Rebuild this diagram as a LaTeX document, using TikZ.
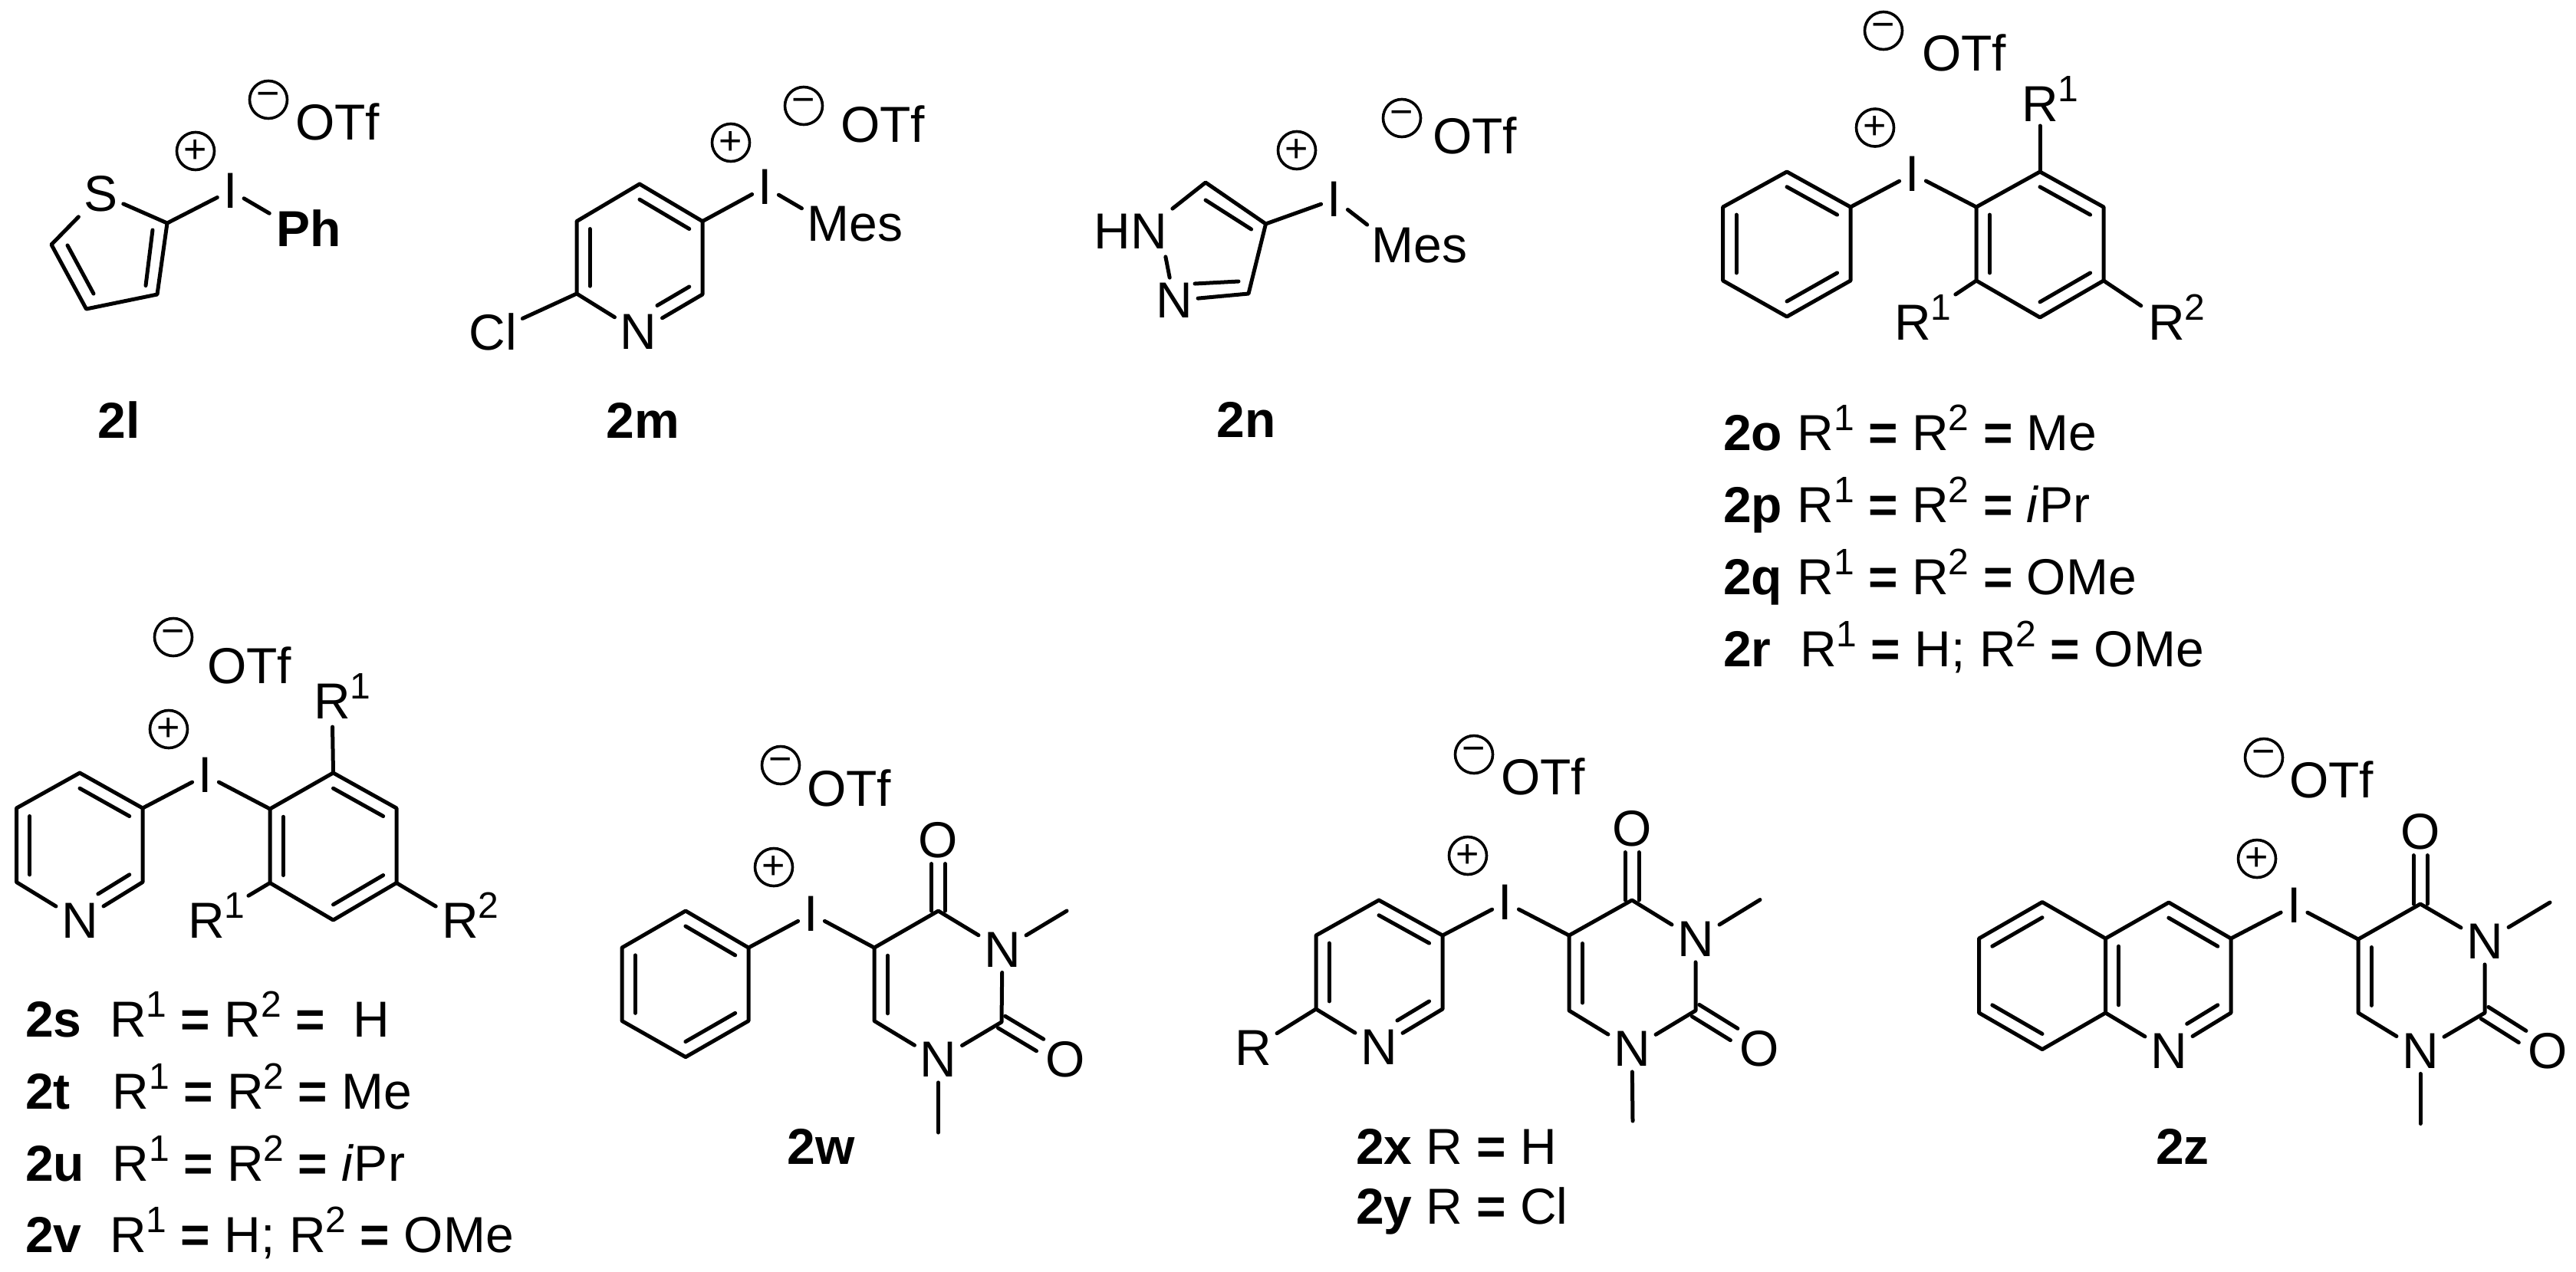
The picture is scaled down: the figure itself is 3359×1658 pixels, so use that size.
\documentclass[tikz,border=0pt]{standalone}
\usepackage{fontspec}
\setmainfont{Liberation Sans}
\usetikzlibrary{calc}
\newcommand\labfont{\fontsize{66}{70}\selectfont}
\newcommand\su[1]{\raisebox{26pt}{\fontsize{48}{48}\selectfont #1}}
\newcommand\Rn[1]{R\rlap{\smash{\su{#1}}}}
\newcommand\eqq{{\bfseries =}}
\newcommand\cc[3]{\coordinate (#1) at (#2,#3);}
\newcommand\bd[1]{\draw[bond] #1;}
\newcommand\inn[4][0pt]{\draw[bond,shorten >=#1] ($(#2)!.21!(#4)$) -- ($(#3)!.21!(#4)$);}
\newcommand\ats[3]{\draw[bond,shorten >=#3] (#1) -- (#2.center);}
\newcommand\dco[2]{\draw[bond] ($(#1)!9pt!90:(#2)$) -- ($(#2)!9pt!-90:(#1)$); \draw[bond] ($(#1)!9pt!-90:(#2)$) -- ($(#2)!9pt!90:(#1)$);}
\newcommand\tl[6]{\node[txt] (#1a) at (#2,#4) {\bfseries #5}; \node[txt] (#1b) at (#3,#4) {#6};}
\tikzset{
  bond/.style={line width=5pt,line cap=round,line join=round,black},
  atom/.style={inner sep=7pt,font=\labfont},
  iatom/.style={inner xsep=8pt,inner ysep=4pt,font=\labfont},
  lab/.style={inner sep=0pt,font=\labfont},
  blab/.style={inner sep=0pt,font=\labfont\bfseries},
  txt/.style={inner sep=0pt,anchor=base west,font=\labfont},
  chg/.style={circle,draw=black,line width=3.6pt,minimum size=49pt,inner sep=0pt,font=\fontsize{52}{52}\selectfont},
}
\begin{document}
\begin{tikzpicture}[x=1pt,y=-1pt]
\path[fill=white,use as bounding box] (0,0) rectangle (3359,1658);

% ---------- 2l
\cc{lC2}{218}{291}\cc{lC3}{205}{384}\cc{lC4}{112.5}{403}\cc{lC5}{67}{319}
\cc{lI2a}{199}{300}\cc{lI2b}{190}{372.5}\cc{lI4a}{122}{383}\cc{lI4b}{88}{320}
\node[atom] (lS) at (131.6,253) {S};
\node[iatom] (lI) at (300.7,248.6) {I};
\node[blab] (lPh) at (403,297.5) {Ph};
\node[chg] (lp) at (255,197) {+};
\node[chg] (lm) at (350,130) {−};
\node[lab] (lO) at (440,159) {OTf};
\node[blab] (l2) at (155,548) {2l};
\bd{(lS) -- (lC2) -- (lC3) -- (lC4) -- (lC5) -- (lS)}
\bd{(lI2a) -- (lI2b)}\bd{(lI4a) -- (lI4b)}
\bd{(lC2) -- (lI)}
\draw[bond,shorten >=38pt] (lI) -- ($(lPh.center)+(-19,0)$);

% ---------- 2m
\cc{mT}{834}{240}\cc{mRT}{916}{288.6}\cc{mRB}{916}{384}\cc{mLB}{752}{383}\cc{mLT}{752}{288.6}\cc{mc}{834}{336}
\node[atom] (mN) at (832.5,433) {N};
\node[atom] (mCl) at (643,433) {Cl};
\node[iatom] (mI) at (998,244) {I};
\node[lab] (mMes) at (1115,292) {Mes};
\node[chg] (mp) at (953,186) {+};
\node[chg] (mm) at (1048,138) {−};
\node[lab] (mO) at (1151,162) {OTf};
\node[blab] (m2) at (838,548) {2m};
\bd{(mT) -- (mRT) -- (mRB) -- (mN) -- (mLB) -- (mLT) -- (mT)}
\inn{mT}{mRT}{mc}\inn{mLB}{mLT}{mc}\inn[28pt]{mRB}{mN}{mc}
\bd{(mLB) -- (mCl)}\bd{(mRT) -- (mI)}
\draw[bond,shorten >=40pt] (mI) -- ($(mMes.center)+(-35,0)$);

% ---------- 2n
\cc{nC3}{1628}{383}\cc{nC4}{1650.5}{292}\cc{nC5}{1572}{238}
\cc{nI3a}{1558}{370}\cc{nI3b}{1615}{367}\cc{nI5a}{1572}{261}\cc{nI5b}{1631.6}{299}
\node[atom] (nHN) at (1474,302) {HN};
\node[atom] (nN) at (1531,392) {N};
\node[iatom] (nI) at (1740,260) {I};
\node[lab] (nMes) at (1851,320) {Mes};
\node[chg] (np) at (1691,196) {+};
\node[chg] (nm) at (1828,154) {−};
\node[lab] (nO) at (1923,177) {OTf};
\node[blab] (n2) at (1625,547) {2n};
\bd{(nHN.north east) -- (nC5) -- (nC4) -- (nC3) -- (nN)}
\bd{($(nHN.south east)+(-9,3)$) -- (nN)}
\bd{(nI3a) -- (nI3b)}\bd{(nI5a) -- (nI5b)}
\bd{(nC4) -- (nI)}
\draw[bond,shorten >=44pt] (nI) -- ($(nMes.center)+(-33.5,0)$);

% ---------- 2o-r
\cc{oA1}{2330}{224}\cc{oA2}{2413}{270}\cc{oA3}{2413}{366}\cc{oA4}{2330}{413}\cc{oA5}{2246.6}{366}\cc{oA6}{2246.6}{270}\cc{oAc}{2330}{318}
\cc{oB1}{2577}{270}\cc{oB2}{2660}{224}\cc{oB3}{2743}{270}\cc{oB4}{2743}{366}\cc{oB5}{2660}{414}\cc{oB6}{2577}{366}\cc{oBc}{2660}{318}
\node[iatom] (oI) at (2494,227) {I};
\node[lab] (oR1) at (2660,136) {\Rn{1}};
\node[lab] (oR2) at (2494,421) {\Rn{1}};
\node[lab] (oR3) at (2825,421) {\Rn{2}};
\node[chg] (op) at (2445,166.5) {+};
\node[chg] (om) at (2456,40) {−};
\node[lab] (oO) at (2561,69) {OTf};
\draw[bond] (oA1) -- (oA2) -- (oA3) -- (oA4) -- (oA5) -- (oA6) -- cycle;
\inn{oA1}{oA2}{oAc}\inn{oA3}{oA4}{oAc}\inn{oA5}{oA6}{oAc}
\draw[bond] (oB1) -- (oB2) -- (oB3) -- (oB4) -- (oB5) -- (oB6) -- cycle;
\inn{oB2}{oB3}{oBc}\inn{oB4}{oB5}{oBc}\inn{oB6}{oB1}{oBc}
\bd{(oA2) -- (oI)}\bd{(oI) -- (oB1)}
\ats{oB2}{oR1}{28pt}\ats{oB6}{oR2}{67pt}\ats{oB4}{oR3}{40pt}
\tl{to}{2247}{2343.5}{587.7}{2o}{R\su{1} \eqq{} R\su{2} \eqq{} Me}
\tl{tp}{2247}{2343.5}{681.7}{2p}{R\su{1} \eqq{} R\su{2} \eqq{} \textit{i}Pr}
\tl{tq}{2247}{2343.5}{775.7}{2q}{R\su{1} \eqq{} R\su{2} \eqq{} OMe}
\tl{tr}{2247}{2347}{869}{2r}{R\su{1} \eqq{} H; R\su{2} \eqq{} OMe}

% ---------- 2s-v
\cc{sA1}{104}{1008}\cc{sA2}{186}{1054}\cc{sA3}{186}{1150.5}\cc{sA5}{21.5}{1150.5}\cc{sA6}{21.5}{1054}\cc{sAc}{104}{1104}
\cc{sB1}{352}{1055}\cc{sB2}{434.5}{1008}\cc{sB3}{517}{1054}\cc{sB4}{517}{1151.5}\cc{sB5}{434.5}{1200}\cc{sB6}{352}{1151.5}\cc{sBc}{434.5}{1104}
\node[atom] (sN) at (104,1201) {N};
\node[iatom] (sI) at (268,1011) {I};
\node[lab] (sR1) at (433,915) {\Rn{1}};
\node[lab] (sR2) at (269,1201) {\Rn{1}};
\node[lab] (sR3) at (600,1201) {\Rn{2}};
\node[chg] (sp) at (220,951) {+};
\node[chg] (sm) at (226,831) {−};
\node[lab] (sO) at (325,868) {OTf};
\bd{(sA1) -- (sA2) -- (sA3) -- (sN) -- (sA5) -- (sA6) -- (sA1)}
\inn{sA1}{sA2}{sAc}\inn{sA5}{sA6}{sAc}\inn[28pt]{sA3}{sN}{sAc}
\draw[bond] (sB1) -- (sB2) -- (sB3) -- (sB4) -- (sB5) -- (sB6) -- cycle;
\inn{sB2}{sB3}{sBc}\inn{sB4}{sB5}{sBc}\inn{sB6}{sB1}{sBc}
\bd{(sA2) -- (sI)}\bd{(sI) -- (sB1)}
\ats{sB2}{sR1}{33pt}\ats{sB6}{sR2}{64pt}\ats{sB4}{sR3}{37pt}
\tl{ts}{33}{143}{1352.3}{2s}{R\su{1} \eqq{} R\su{2} \eqq{} \hspace{18pt}H}
\tl{tt}{33}{146.5}{1446.7}{2t}{R\su{1} \eqq{} R\su{2} \eqq{} Me}
\tl{tu}{33}{146.5}{1540}{2u}{R\su{1} \eqq{} R\su{2} \eqq{} \textit{i}Pr}
\tl{tv}{33}{143}{1633.3}{2v}{R\su{1} \eqq{} H; R\su{2} \eqq{} OMe}

% ---------- 2w
\cc{wA1}{894}{1188}\cc{wA2}{976}{1236}\cc{wA3}{976}{1331.5}\cc{wA4}{894}{1378.6}\cc{wA5}{811}{1331.5}\cc{wA6}{811}{1236}\cc{wAc}{893.5}{1283}
\cc{wC5}{1140}{1236}\cc{wC4}{1223.5}{1188}\cc{wC2}{1306}{1333}\cc{wC6}{1140}{1331.5}\cc{wUc}{1223}{1285}
\cc{wMe3}{1391}{1188}\cc{wMe1}{1223.5}{1477}
\node[atom] (wN3) at (1307,1238.5) {N};
\node[atom] (wN1) at (1223.5,1382) {N};
\node[atom] (wO4) at (1223.5,1096) {O};
\node[atom] (wO2) at (1389,1382) {O};
\node[iatom] (wI) at (1058,1192) {I};
\node[chg] (wp) at (1009,1131) {+};
\node[chg] (wm) at (1018,998) {−};
\node[lab] (wO) at (1107,1028) {OTf};
\node[blab] (w2) at (1071,1495) {2w};
\draw[bond] (wA1) -- (wA2) -- (wA3) -- (wA4) -- (wA5) -- (wA6) -- cycle;
\inn{wA1}{wA2}{wAc}\inn{wA3}{wA4}{wAc}\inn{wA5}{wA6}{wAc}
\bd{(wC5) -- (wC4) -- (wN3) -- (wC2) -- (wN1) -- (wC6) -- (wC5)}
\inn{wC6}{wC5}{wUc}
\dco{wC4}{wO4.south}\dco{wC2}{wO2.150}
\bd{(wN3) -- (wMe3)}\bd{(wN1) -- (wMe1)}
\bd{(wA2) -- (wI)}\bd{(wI) -- (wC5)}

% ---------- 2x,y
\cc{xA1}{1798}{1174}\cc{xA2}{1881}{1220}\cc{xA3}{1881}{1316}\cc{xA5}{1716}{1316}\cc{xA6}{1716}{1220}\cc{xAc}{1798}{1268}
\cc{xC5}{2046}{1220}\cc{xC4}{2128}{1174}\cc{xC2}{2211}{1318}\cc{xC6}{2046}{1318}\cc{xUc}{2128.5}{1270}
\cc{xMe3}{2295}{1173.5}\cc{xMe1}{2129}{1462}
\node[atom] (xN) at (1798,1366) {N};
\node[atom] (xR) at (1634,1367) {R};
\node[atom] (xN3) at (2211,1225) {N};
\node[atom] (xN1) at (2128,1368) {N};
\node[atom] (xO4) at (2128,1081) {O};
\node[atom] (xO2) at (2294,1368) {O};
\node[iatom] (xI) at (1963,1177) {I};
\node[chg] (xp) at (1914,1116) {+};
\node[chg] (xm) at (1922,984) {−};
\node[lab] (xO) at (2012,1013) {OTf};
\bd{(xA1) -- (xA2) -- (xA3) -- (xN) -- (xA5) -- (xA6) -- (xA1)}
\inn{xA1}{xA2}{xAc}\inn{xA5}{xA6}{xAc}\inn[28pt]{xA3}{xN}{xAc}
\bd{(xA5) -- (xR)}
\bd{(xC5) -- (xC4) -- (xN3) -- (xC2) -- (xN1) -- (xC6) -- (xC5)}
\inn{xC6}{xC5}{xUc}
\dco{xC4}{xO4.south}\dco{xC2}{xO2.150}
\bd{(xN3) -- (xMe3)}\bd{(xN1) -- (xMe1)}
\bd{(xA2) -- (xI)}\bd{(xI) -- (xC5)}
\tl{tx}{1768}{1859}{1518}{2x}{R \eqq{} H}
\tl{ty}{1768}{1859}{1596}{2y}{R \eqq{} Cl}

% ---------- 2z
\cc{zA1}{2663}{1176.5}\cc{zA2}{2580.5}{1224}\cc{zA3}{2580.5}{1321}\cc{zA4}{2663}{1368.6}\cc{zA5}{2745.5}{1321}\cc{zA6}{2745.5}{1224}\cc{zAc}{2663}{1272.5}
\cc{zB1}{2828}{1177}\cc{zB2}{2909}{1224}\cc{zB3}{2909}{1321}\cc{zBc}{2827}{1272.5}
\cc{zC5}{3075}{1225}\cc{zC4}{3156}{1179}\cc{zC2}{3240}{1321}\cc{zC6}{3075}{1321}\cc{zUc}{3157}{1275}
\cc{zMe3}{3325}{1177}\cc{zMe1}{3156}{1465.5}
\node[atom] (zN) at (2828,1370.5) {N};
\node[atom] (zN3) at (3240,1228) {N};
\node[atom] (zN1) at (3156,1370.5) {N};
\node[atom] (zO4) at (3156,1085) {O};
\node[atom] (zO2) at (3322,1371) {O};
\node[iatom] (zI) at (2991.5,1181) {I};
\node[chg] (zp) at (2943,1120) {+};
\node[chg] (zm) at (2952,988) {−};
\node[lab] (zO) at (3040,1017) {OTf};
\node[blab] (z2) at (2846,1495) {2z};
\draw[bond] (zA1) -- (zA2) -- (zA3) -- (zA4) -- (zA5) -- (zA6) -- cycle;
\inn{zA1}{zA2}{zAc}\inn{zA3}{zA4}{zAc}
\bd{(zA6) -- (zB1) -- (zB2) -- (zB3) -- (zN) -- (zA5)}
\inn{zA5}{zA6}{zBc}\inn{zB1}{zB2}{zBc}\inn[28pt]{zB3}{zN}{zBc}
\bd{(zC5) -- (zC4) -- (zN3) -- (zC2) -- (zN1) -- (zC6) -- (zC5)}
\inn{zC6}{zC5}{zUc}
\dco{zC4}{zO4.south}\dco{zC2}{zO2.150}
\bd{(zN3) -- (zMe3)}\bd{(zN1) -- (zMe1)}
\bd{(zB2) -- (zI)}\bd{(zI) -- (zC5)}
\end{tikzpicture}
\end{document}
